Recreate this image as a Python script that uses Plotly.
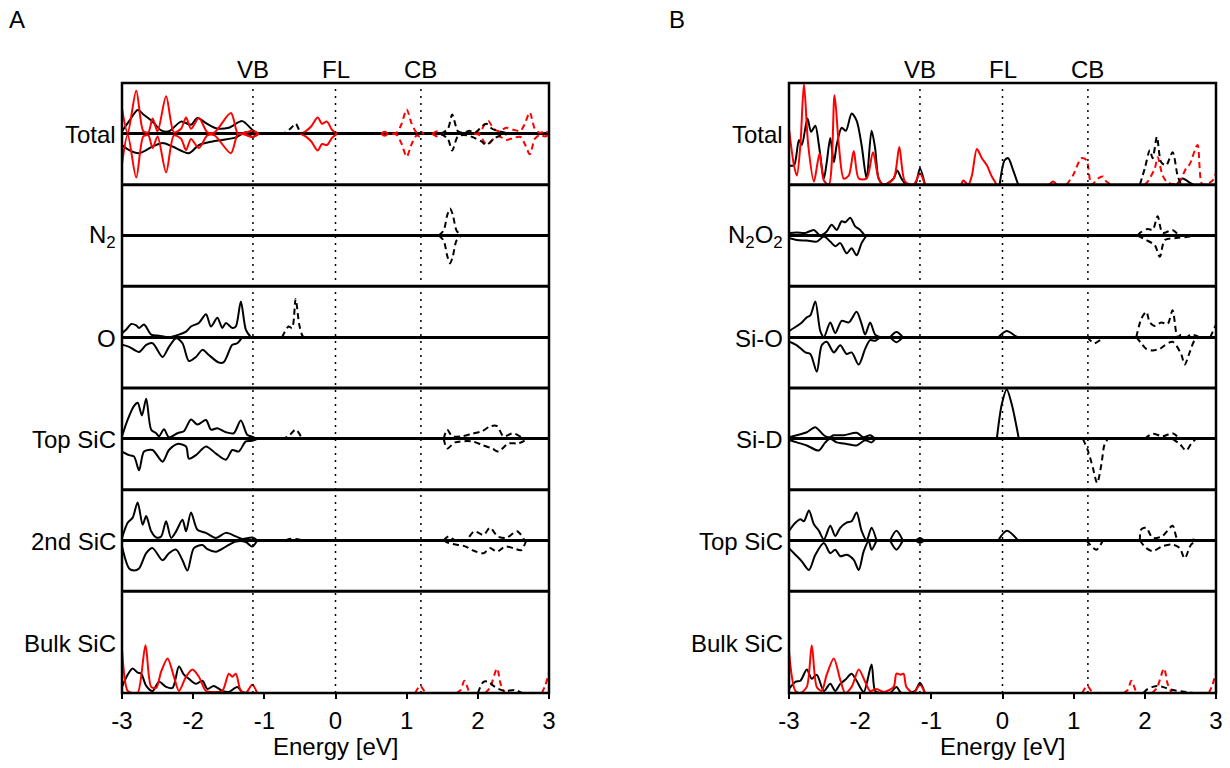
import plotly.graph_objects as go

# ---------------- reference energies ----------------
VB, FL, CB = -1.16, 0.0, 1.2
ticks = [-3, -2, -1, 0, 1, 2, 3]
tick_text = ["-3", "-2", "-1", "0", "1", "2", "3"]
labels_A = ["Total", "N<sub>2</sub>", "O", "Top SiC", "2nd SiC", "Bulk SiC"]
labels_B = ["Total", "N<sub>2</sub>O<sub>2</sub>", "Si-O", "Si-D", "Top SiC", "Bulk SiC"]
N = None

# ---------------- Panel A : Total ----------------
a_tot_blk_up_x = [-3.0, -2.90, -2.78, -2.69, -2.57, -2.45, -2.34, -2.17, -2.03, -1.94, -1.82, -1.68, -1.50, -1.31, -1.17, -1.08]
a_tot_blk_up_y = [0.05, 0.25, 0.47, 0.37, 0.24, 0.07, 0.05, 0.24, 0.18, 0.31, 0.21, 0.11, 0.12, 0.25, 0.08, 0.0]
a_tot_blk_dn_x = [-3.0, -2.90, -2.76, -2.57, -2.43, -2.29, -2.06, -1.92, -1.73, -1.59, -1.40, -1.26, -1.17, -1.08]
a_tot_blk_dn_y = [-0.22, -0.32, -0.38, -0.25, -0.18, -0.25, -0.38, -0.22, -0.15, -0.12, -0.07, 0.03, -0.06, 0.0]
a_tot_red_up_x = [-3.0, -2.92, -2.80, -2.70, -2.63, -2.57, -2.50, -2.38, -2.27, -2.17, -2.10, -2.03, -1.92, -1.80, -1.70, -1.47, -1.37, -1.27, -1.17, -1.08,
                  N, -0.49, -0.42, -0.34, -0.25, -0.19, -0.12, -0.05, 0.02, N, 0.64, 0.69, 0.74]
a_tot_red_up_y = [0.50, 0.02, 0.85, 0.05, 0.03, 0.30, 0.05, 0.74, 0.03, 0.10, 0.32, 0.10, 0.31, 0.03, 0.03, 0.41, 0.0, 0.02, 0.06, 0.0,
                  N, 0.0, 0.05, 0.15, 0.32, 0.20, 0.24, 0.08, 0.0, N, 0.0, 0.04, 0.0]
a_tot_red_dn_x = [-3.0, -2.92, -2.80, -2.70, -2.63, -2.57, -2.50, -2.38, -2.27, -2.17, -2.10, -2.03, -1.92, -1.80, -1.70, -1.47, -1.37, -1.27, -1.17, -1.08,
                  N, -0.49, -0.42, -0.34, -0.25, -0.19, -0.12, -0.05, 0.02, N, 0.64, 0.69, 0.74]
a_tot_red_dn_y = [-0.60, -0.02, -0.86, -0.05, -0.03, -0.28, -0.05, -0.76, -0.03, -0.10, -0.32, -0.10, -0.28, -0.03, -0.03, -0.38, 0.0, -0.02, -0.06, 0.0,
                  N, 0.0, -0.05, -0.15, -0.33, -0.20, -0.22, -0.08, 0.0, N, 0.0, -0.04, 0.0]
a_tot_redd_up_x = [0.80, 0.86, 0.93, 1.00, 1.07, 1.14, 1.18, 1.24, N, 1.36, 1.43, 1.52, N, 1.95, 2.03, 2.10, 2.15, 2.22, 2.30, 2.40, 2.50, 2.60, 2.66, 2.73, 2.80, 2.87, 2.94, 3.0]
a_tot_redd_up_y = [0.0, 0.02, 0.20, 0.48, 0.20, 0.03, 0.05, 0.0, N, 0.0, 0.05, 0.0, N, 0.0, 0.03, 0.20, 0.25, 0.10, 0.05, 0.12, 0.08, 0.06, 0.20, 0.42, 0.10, 0.02, 0.05, 0.02]
a_tot_redd_dn_x = [0.80, 0.86, 0.93, 1.00, 1.07, 1.14, 1.18, 1.24, N, 1.36, 1.43, 1.52, N, 1.95, 2.03, 2.10, 2.15, 2.22, 2.30, 2.40, 2.50, 2.60, 2.66, 2.73, 2.80, 2.87, 2.94, 3.0]
a_tot_redd_dn_y = [0.0, -0.02, -0.20, -0.45, -0.20, -0.03, -0.05, 0.0, N, 0.0, -0.05, 0.0, N, 0.0, -0.03, -0.18, -0.20, -0.10, -0.05, -0.12, -0.08, -0.06, -0.20, -0.40, -0.10, -0.02, -0.05, -0.02]
a_tot_blkd_up_x = [-0.78, -0.70, -0.62, -0.56, -0.49, -0.40, N, 1.48, 1.58, 1.64, 1.72, 1.80, 1.88, 1.96, 2.06, 2.12, 2.20, 2.30, 2.40, 2.50]
a_tot_blkd_up_y = [0.0, 0.03, 0.12, 0.20, 0.03, 0.0, N, 0.0, 0.10, 0.38, 0.05, 0.02, 0.06, 0.02, 0.15, 0.20, 0.10, 0.05, 0.02, 0.0]
a_tot_blkd_dn_x = [1.48, 1.58, 1.64, 1.72, 1.85, 2.05, 2.12, 2.22, 2.32, 2.45]
a_tot_blkd_dn_y = [0.0, -0.10, -0.33, -0.05, -0.03, -0.15, -0.22, -0.10, -0.03, 0.0]

# ---------------- Panel A : N2 ----------------
a_n2_blkd_up_x = [-3.0, 1.45, N, 1.45, 1.52, 1.57, 1.61, 1.65, 1.70, 1.77, N, 1.77, 3.0]
a_n2_blkd_up_y = [0.0, 0.0, N, 0.0, 0.10, 0.40, 0.53, 0.40, 0.10, 0.0, N, 0.0, 0.0]
a_n2_blkd_dn_x = [1.45, 1.52, 1.57, 1.61, 1.65, 1.70, 1.77]
a_n2_blkd_dn_y = [0.0, -0.10, -0.40, -0.55, -0.40, -0.10, 0.0]

# ---------------- Panel A : O ----------------
a_o_blk_up_x = [-3.0, -2.94, -2.87, -2.80, -2.76, -2.69, -2.59, -2.48, -2.34, -2.20, -2.10, -2.03, -1.92, -1.82, -1.75, -1.66, -1.59, -1.54, -1.45, -1.40, -1.33, -1.26, -1.19]
a_o_blk_up_y = [0.08, 0.15, 0.26, 0.23, 0.18, 0.25, 0.05, 0.03, 0.0, 0.05, 0.11, 0.21, 0.28, 0.45, 0.21, 0.38, 0.18, 0.28, 0.18, 0.21, 0.70, 0.15, 0.0]
a_o_blk_dn_x = [-3.0, -2.90, -2.76, -2.66, -2.57, -2.43, -2.34, -2.24, -2.15, -2.06, -1.96, -1.87, -1.78, -1.64, -1.57, -1.45, -1.38, -1.31]
a_o_blk_dn_y = [-0.15, -0.19, -0.29, -0.15, -0.12, -0.39, -0.19, -0.02, -0.12, -0.47, -0.39, -0.25, -0.35, -0.50, -0.49, -0.15, -0.12, 0.0]
a_o_blkd_up_x = [-0.75, -0.66, -0.61, -0.56, -0.51, -0.46, -0.41]
a_o_blkd_up_y = [0.0, 0.21, 0.18, 0.75, 0.25, 0.02, 0.0]

# ---------------- Panel A : Top SiC ----------------
a_top_blk_up_x = [-3.0, -2.92, -2.83, -2.78, -2.72, -2.66, -2.59, -2.52, -2.48, -2.41, -2.34, -2.22, -2.13, -2.03, -1.94, -1.82, -1.75, -1.66, -1.54, -1.43, -1.33, -1.24, -1.17, -1.10]
a_top_blk_up_y = [0.05, 0.38, 0.65, 0.71, 0.46, 0.79, 0.18, 0.11, 0.05, 0.19, 0.03, 0.11, 0.15, 0.38, 0.28, 0.37, 0.18, 0.21, 0.13, 0.11, 0.36, 0.08, 0.04, 0.0]
a_top_blk_dn_x = [-3.0, -2.90, -2.83, -2.76, -2.69, -2.57, -2.43, -2.34, -2.22, -2.10, -2.06, -1.96, -1.82, -1.68, -1.54, -1.45, -1.36, -1.26, -1.17, -1.10]
a_top_blk_dn_y = [-0.25, -0.32, -0.35, -0.62, -0.25, -0.22, -0.45, -0.22, -0.10, -0.15, -0.39, -0.32, -0.15, -0.29, -0.41, -0.22, -0.25, -0.05, -0.04, 0.0]
a_top_blkd_up_x = [-0.76, -0.66, -0.56, -0.47, N, 1.52, 1.57, 1.64, 1.78, 1.92, 2.06, 2.18, 2.27, 2.36, 2.50, 2.63, 2.70]
a_top_blkd_up_y = [0.0, 0.05, 0.18, 0.0, N, 0.0, 0.18, 0.05, 0.05, 0.10, 0.15, 0.25, 0.25, 0.05, 0.11, 0.02, 0.0]
a_top_blkd_dn_x = [1.52, 1.57, 1.68, 1.92, 2.06, 2.20, 2.29, 2.43, 2.57, 2.70]
a_top_blkd_dn_y = [0.0, -0.19, -0.07, -0.05, -0.12, -0.19, -0.25, -0.09, -0.09, 0.0]

# ---------------- Panel A : 2nd SiC ----------------
a_2nd_blk_up_x = [-3.0, -2.92, -2.85, -2.78, -2.71, -2.66, -2.59, -2.52, -2.45, -2.38, -2.31, -2.24, -2.15, -2.10, -2.03, -1.94, -1.82, -1.68, -1.54, -1.40, -1.31, -1.17, -1.10]
a_2nd_blk_up_y = [0.05, 0.35, 0.45, 0.75, 0.31, 0.48, 0.18, 0.06, 0.08, 0.38, 0.05, 0.18, 0.41, 0.18, 0.55, 0.21, 0.15, 0.05, 0.15, 0.08, 0.03, 0.06, 0.0]
a_2nd_blk_dn_x = [-3.0, -2.90, -2.83, -2.76, -2.66, -2.57, -2.43, -2.34, -2.24, -2.15, -2.08, -1.99, -1.87, -1.80, -1.68, -1.54, -1.40, -1.26, -1.17, -1.10]
a_2nd_blk_dn_y = [-0.12, -0.55, -0.59, -0.55, -0.25, -0.15, -0.39, -0.25, -0.18, -0.39, -0.59, -0.15, -0.09, -0.17, -0.22, -0.12, -0.02, -0.03, -0.12, 0.0]
a_2nd_blkd_up_x = [-0.70, -0.65, -0.56, -0.45, N, 1.52, 1.59, 1.68, 1.83, 1.95, 2.08, 2.17, 2.28, 2.40, 2.55, 2.66]
a_2nd_blkd_up_y = [0.0, 0.03, 0.03, 0.0, N, 0.0, 0.08, 0.0, 0.0, 0.18, 0.11, 0.25, 0.08, 0.05, 0.18, 0.0]
a_2nd_blkd_dn_x = [1.52, 1.59, 1.83, 1.92, 2.08, 2.17, 2.27, 2.38, 2.50, 2.61, 2.68]
a_2nd_blkd_dn_y = [0.0, -0.05, -0.12, -0.19, -0.25, -0.15, -0.22, -0.12, -0.15, -0.19, 0.0]

# ---------------- Panel A : Bulk SiC ----------------
a_blk_red_x = [-3.0, -2.92, -2.85, -2.78, -2.67, -2.59, -2.52, -2.45, -2.36, -2.27, -2.20, -2.10, -2.01, -1.92, -1.82, -1.73, -1.59, -1.50, -1.45, -1.40, -1.33, -1.26, -1.17, -1.10]
a_blk_red_y = [0.43, 0.02, 0.0, 0.0, 0.47, 0.06, 0.05, 0.21, 0.34, 0.16, 0.02, 0.16, 0.23, 0.16, 0.02, 0.01, 0.02, 0.19, 0.16, 0.19, 0.02, 0.0, 0.08, 0.0]
a_blk_blk_x = [-3.0, -2.92, -2.85, -2.78, -2.73, -2.66, -2.57, -2.48, -2.38, -2.29, -2.20, -2.13, -2.06, -1.96, -1.87, -1.80, -1.71, -1.59, -1.50, -1.38, -1.31, -1.17]
a_blk_blk_y = [0.06, 0.18, 0.24, 0.20, 0.19, 0.07, 0.02, 0.11, 0.06, 0.05, 0.26, 0.18, 0.14, 0.09, 0.12, 0.04, 0.07, 0.02, 0.01, 0.06, 0.01, 0.0]
a_blk_redd_x = [1.12, 1.19, 1.26, N, 1.70, 1.76, 1.81, 1.88, N, 2.10, 2.17, 2.27, 2.32, 2.38, N, 2.90, 2.95, 3.0]
a_blk_redd_y = [0.0, 0.07, 0.0, N, 0.0, 0.03, 0.12, 0.0, N, 0.0, 0.05, 0.24, 0.09, 0.0, N, 0.0, 0.08, 0.20]
a_blk_blkd_x = [2.00, 2.08, 2.15, 2.22, 2.29, 2.38, 2.52, 2.62]
a_blk_blkd_y = [0.0, 0.11, 0.11, 0.07, 0.04, 0.02, 0.03, 0.0]

# ---------------- Panel B : Total ----------------
b_tot_red_x = [-3.0, -2.93, -2.89, -2.84, -2.79, -2.73, -2.65, -2.57, -2.51, -2.44, -2.36, -2.30, -2.23, -2.16, -2.09, -2.02, -1.91, -1.82, -1.74, -1.67, -1.53, -1.45, -1.37, -1.25, -1.16, -1.09,
               N, -0.58, -0.55, -0.48, -0.43, -0.36, -0.29, -0.22, -0.15, -0.08, N, 0.66, 0.71, 0.76]
b_tot_red_y = [0.55, 0.19, 0.09, 0.39, 0.99, 0.39, 0.03, 0.31, 0.04, 0.0, 0.88, 0.39, 0.06, 0.09, 0.33, 0.06, 0.06, 0.32, 0.06, 0.0, 0.06, 0.37, 0.03, 0.0, 0.11, 0.0,
               N, 0.0, 0.04, 0.0, 0.09, 0.35, 0.26, 0.19, 0.08, 0.0, N, 0.0, 0.03, 0.0]
b_tot_redd_x = [0.90, 0.99, 1.11, 1.18, 1.25, 1.34, 1.41, 1.46, 1.53, N, 2.00, 2.04, 2.14, 2.18, 2.25, 2.32, 2.46, 2.58, 2.63, 2.74, 2.81, 2.95, 3.0]
b_tot_redd_y = [0.0, 0.09, 0.26, 0.24, 0.0, 0.06, 0.08, 0.03, 0.0, N, 0.0, 0.03, 0.16, 0.27, 0.09, 0.02, 0.01, 0.16, 0.20, 0.39, 0.0, 0.04, 0.12]
b_tot_blk_x = [-3.0, -2.93, -2.86, -2.82, -2.74, -2.69, -2.63, -2.58, -2.51, -2.47, -2.42, -2.37, -2.33, -2.26, -2.20, -2.12, -2.05, -1.98, -1.91, -1.84, -1.79, -1.74, -1.67, -1.53, -1.48, -1.42, -1.35, -1.23, -1.16, -1.09,
               N, -0.04, 0.03, 0.08, 0.15, 0.22, N, 2.45, 2.53, 2.63, 2.68]
b_tot_blk_y = [0.19, 0.19, 0.44, 0.39, 0.65, 0.52, 0.58, 0.39, 0.06, 0.22, 0.46, 0.22, 0.39, 0.56, 0.53, 0.70, 0.63, 0.39, 0.06, 0.53, 0.36, 0.06, 0.0, 0.06, 0.14, 0.06, 0.0, 0.0, 0.16, 0.0,
               N, 0.0, 0.24, 0.26, 0.14, 0.0, N, 0.0, 0.06, 0.02, 0.0]
b_tot_blkd_x = [1.93, 2.00, 2.07, 2.11, 2.17, 2.23, 2.30, 2.39, 2.46, 2.51]
b_tot_blkd_y = [0.0, 0.16, 0.34, 0.26, 0.47, 0.22, 0.19, 0.32, 0.09, 0.0]

# ---------------- Panel B : N2O2 ----------------
b_n2o2_blk_up_x = [-3.0, -2.89, -2.77, -2.65, -2.56, -2.47, -2.40, -2.33, -2.26, -2.21, -2.14, -2.07, -2.00, -1.93, -1.84]
b_n2o2_blk_up_y = [0.05, 0.06, 0.05, 0.11, 0.0, 0.08, 0.21, 0.11, 0.28, 0.26, 0.35, 0.18, 0.11, 0.0, 0.0]
b_n2o2_blk_dn_x = [-3.0, -2.89, -2.75, -2.61, -2.51, -2.42, -2.35, -2.28, -2.19, -2.12, -2.05, -1.98, -1.91]
b_n2o2_blk_dn_y = [-0.05, -0.09, -0.10, -0.12, -0.02, -0.12, -0.21, -0.15, -0.35, -0.25, -0.39, -0.15, 0.0]
b_n2o2_blkd_up_x = [1.90, 1.93, 2.04, 2.11, 2.18, 2.25, 2.39, 2.49, 2.63, 2.72]
b_n2o2_blkd_up_y = [0.0, 0.05, 0.13, 0.11, 0.38, 0.05, 0.11, 0.0, 0.01, 0.0]
b_n2o2_blkd_dn_x = [1.90, 2.02, 2.14, 2.21, 2.28, 2.44, 2.58, 2.72]
b_n2o2_blkd_dn_y = [0.0, -0.09, -0.19, -0.42, -0.09, -0.05, -0.03, 0.0]

# ---------------- Panel B : Si-O ----------------
b_sio_blk_up_x = [-3.0, -2.91, -2.82, -2.75, -2.70, -2.63, -2.56, -2.51, -2.42, -2.35, -2.26, -2.16, -2.05, -1.98, -1.93, -1.86, -1.79, -1.72,
                  N, -1.58, -1.49, -1.40, N, -0.06, 0.06, 0.20, 0.25]
b_sio_blk_up_y = [0.12, 0.20, 0.29, 0.39, 0.43, 0.70, 0.12, 0.0, 0.29, 0.08, 0.32, 0.29, 0.50, 0.26, 0.05, 0.29, 0.05, 0.0,
                  N, 0.0, 0.10, 0.0, N, 0.0, 0.12, 0.01, 0.0]
b_sio_blk_dn_x = [-3.0, -2.89, -2.77, -2.70, -2.61, -2.54, -2.47, -2.37, -2.28, -2.19, -2.12, -2.02, -1.93, -1.86, -1.79, -1.72,
                  N, -1.58, -1.49, -1.40]
b_sio_blk_dn_y = [-0.09, -0.16, -0.30, -0.33, -0.68, -0.16, -0.09, -0.30, -0.16, -0.33, -0.30, -0.54, -0.23, -0.06, -0.07, 0.0,
                  N, 0.0, -0.10, 0.0]
b_sio_blkd_up_x = [1.88, 1.95, 2.02, 2.07, 2.14, 2.23, 2.32, 2.39, 2.46, 2.51, 2.58, 2.65, 2.77, N, 2.92, 3.0]
b_sio_blkd_up_y = [0.0, 0.36, 0.50, 0.29, 0.22, 0.29, 0.26, 0.53, 0.0, 0.05, 0.0, 0.05, 0.0, N, 0.0, 0.25]
b_sio_blkd_dn_x = [1.19, 1.29, 1.38, 1.46, N, 1.88, 1.95, 2.02, 2.11, 2.21, 2.28, 2.39, 2.51, 2.56, 2.63, 2.70, 2.77]
b_sio_blkd_dn_y = [0.0, -0.12, -0.05, 0.0, N, 0.0, -0.12, -0.23, -0.26, -0.23, -0.16, -0.09, -0.33, -0.54, -0.30, -0.06, 0.0]

# ---------------- Panel B : Si-D ----------------
b_sid_blk_up_x = [-3.0, -2.89, -2.75, -2.63, -2.51, -2.44, -2.37, -2.23, -2.05, -1.95, -1.86, -1.79, N, -0.08, -0.01, 0.06, 0.13, 0.17, 0.23]
b_sid_blk_up_y = [0.03, 0.07, 0.13, 0.23, 0.07, 0.03, 0.07, 0.07, 0.12, 0.03, 0.07, 0.0, N, 0.0, 0.68, 0.97, 0.68, 0.43, 0.0]
b_sid_blk_dn_x = [-3.0, -2.89, -2.75, -2.58, -2.49, -2.42, -2.33, -2.19, -2.05, -1.93, -1.84, -1.79]
b_sid_blk_dn_y = [-0.02, -0.07, -0.13, -0.23, -0.07, 0.0, -0.07, -0.10, -0.13, -0.03, -0.07, 0.0]
b_sid_blkd_up_x = [2.00, 2.11, 2.25, 2.39, 2.49]
b_sid_blkd_up_y = [0.0, 0.10, 0.05, 0.11, 0.0]
b_sid_blkd_dn_x = [1.13, 1.20, 1.27, 1.33, 1.39, 1.43, 1.48, N, 2.39, 2.49, 2.58, 2.65, 2.72]
b_sid_blkd_dn_y = [0.0, -0.23, -0.57, -0.87, -0.50, -0.13, 0.0, N, 0.0, -0.10, -0.23, -0.10, 0.0]

# ---------------- Panel B : Top SiC ----------------
b_top_blk_up_x = [-3.0, -2.91, -2.84, -2.79, -2.72, -2.65, -2.58, -2.51, -2.42, -2.35, -2.28, -2.19, -2.12, -2.05, -1.98, -1.91, -1.84, -1.77,
                  N, -1.58, -1.49, -1.40, N, -1.22, -1.16, -1.10, N, -0.06, 0.06, 0.22]
b_top_blk_up_y = [0.19, 0.35, 0.42, 0.38, 0.59, 0.32, 0.19, 0.02, 0.29, 0.09, 0.25, 0.35, 0.38, 0.55, 0.19, 0.0, 0.25, 0.0,
                  N, 0.0, 0.19, 0.0, N, 0.0, 0.05, 0.0, N, 0.0, 0.19, 0.0]
b_top_blk_dn_x = [-3.0, -2.91, -2.82, -2.72, -2.63, -2.51, -2.42, -2.35, -2.28, -2.19, -2.09, -2.02, -1.95, -1.88, -1.84, -1.77,
                  N, -1.58, -1.49, -1.40, N, -1.22, -1.16, -1.10]
b_top_blk_dn_y = [-0.15, -0.28, -0.41, -0.58, -0.28, -0.05, -0.25, -0.18, -0.31, -0.28, -0.38, -0.58, -0.21, -0.01, -0.18, 0.0,
                  N, 0.0, -0.18, 0.0, N, 0.0, -0.05, 0.0]
b_top_blkd_up_x = [1.93, 1.95, 2.02, 2.11, 2.25, 2.39, 2.46, 2.58, 2.70]
b_top_blkd_up_y = [0.0, 0.22, 0.25, 0.05, 0.09, 0.29, 0.02, 0.0, 0.02]
b_top_blkd_dn_x = [1.18, 1.32, 1.41, N, 1.93, 2.02, 2.11, 2.25, 2.39, 2.49, 2.56, 2.65, 2.74]
b_top_blkd_dn_y = [0.0, -0.18, 0.0, N, 0.0, -0.15, -0.21, -0.11, -0.08, -0.15, -0.35, -0.08, 0.0]

# ---------------- Panel B : Bulk SiC ----------------
b_blk_red_x = [-3.0, -2.91, -2.84, -2.75, -2.68, -2.61, -2.54, -2.47, -2.37, -2.28, -2.21, -2.12, -2.02, -1.93, -1.86, -1.77, -1.67, -1.53, -1.49, -1.43, -1.39, -1.35, -1.25, -1.16, -1.09]
b_blk_red_y = [0.41, 0.02, 0.0, 0.06, 0.47, 0.06, 0.02, 0.18, 0.34, 0.13, 0.0, 0.06, 0.23, 0.11, 0.02, 0.04, 0.01, 0.06, 0.19, 0.18, 0.19, 0.06, 0.0, 0.08, 0.0]
b_blk_blk_x = [-3.0, -2.91, -2.84, -2.75, -2.68, -2.61, -2.51, -2.42, -2.35, -2.28, -2.21, -2.12, -2.05, -1.95, -1.84, -1.79, -1.72, -1.58, -1.49, -1.42, -1.23, -1.16, -1.09]
b_blk_blk_y = [0.04, 0.11, 0.12, 0.23, 0.14, 0.18, 0.02, 0.09, 0.02, 0.09, 0.13, 0.19, 0.12, 0.01, 0.28, 0.02, 0.0, 0.0, 0.06, 0.0, 0.02, 0.10, 0.0]
b_blk_redd_x = [1.12, 1.19, 1.26, N, 1.70, 1.76, 1.81, 1.88, N, 2.10, 2.17, 2.27, 2.32, 2.38, N, 2.90, 2.95, 3.0]
b_blk_redd_y = [0.0, 0.07, 0.0, N, 0.0, 0.03, 0.12, 0.0, N, 0.0, 0.05, 0.24, 0.09, 0.0, N, 0.0, 0.08, 0.20]
b_blk_blkd_x = [1.98, 2.04, 2.11, 2.18, 2.25, 2.39, 2.58, 2.68]
b_blk_blkd_y = [0.0, 0.04, 0.06, 0.07, 0.06, 0.03, 0.01, 0.0]

BLACK, RED = "#000000", "#ff0000"
DASH = "6px,4px"

# (axis index, x, y, colour, dash)
curves = [
    (1, a_tot_blk_up_x, a_tot_blk_up_y, BLACK, "solid"), (1, a_tot_blk_dn_x, a_tot_blk_dn_y, BLACK, "solid"),
    (1, a_tot_red_up_x, a_tot_red_up_y, RED, "solid"), (1, a_tot_red_dn_x, a_tot_red_dn_y, RED, "solid"),
    (1, a_tot_redd_up_x, a_tot_redd_up_y, RED, DASH), (1, a_tot_redd_dn_x, a_tot_redd_dn_y, RED, DASH),
    (1, a_tot_blkd_up_x, a_tot_blkd_up_y, BLACK, DASH), (1, a_tot_blkd_dn_x, a_tot_blkd_dn_y, BLACK, DASH),
    (2, a_n2_blkd_up_x, a_n2_blkd_up_y, BLACK, DASH), (2, a_n2_blkd_dn_x, a_n2_blkd_dn_y, BLACK, DASH),
    (3, a_o_blk_up_x, a_o_blk_up_y, BLACK, "solid"), (3, a_o_blk_dn_x, a_o_blk_dn_y, BLACK, "solid"),
    (3, a_o_blkd_up_x, a_o_blkd_up_y, BLACK, DASH),
    (4, a_top_blk_up_x, a_top_blk_up_y, BLACK, "solid"), (4, a_top_blk_dn_x, a_top_blk_dn_y, BLACK, "solid"),
    (4, a_top_blkd_up_x, a_top_blkd_up_y, BLACK, DASH), (4, a_top_blkd_dn_x, a_top_blkd_dn_y, BLACK, DASH),
    (5, a_2nd_blk_up_x, a_2nd_blk_up_y, BLACK, "solid"), (5, a_2nd_blk_dn_x, a_2nd_blk_dn_y, BLACK, "solid"),
    (5, a_2nd_blkd_up_x, a_2nd_blkd_up_y, BLACK, DASH), (5, a_2nd_blkd_dn_x, a_2nd_blkd_dn_y, BLACK, DASH),
    (6, a_blk_blk_x, a_blk_blk_y, BLACK, "solid"), (6, a_blk_red_x, a_blk_red_y, RED, "solid"),
    (6, a_blk_redd_x, a_blk_redd_y, RED, DASH), (6, a_blk_blkd_x, a_blk_blkd_y, BLACK, DASH),
    (7, b_tot_blk_x, b_tot_blk_y, BLACK, "solid"), (7, b_tot_red_x, b_tot_red_y, RED, "solid"),
    (7, b_tot_redd_x, b_tot_redd_y, RED, DASH), (7, b_tot_blkd_x, b_tot_blkd_y, BLACK, DASH),
    (8, b_n2o2_blk_up_x, b_n2o2_blk_up_y, BLACK, "solid"), (8, b_n2o2_blk_dn_x, b_n2o2_blk_dn_y, BLACK, "solid"),
    (8, b_n2o2_blkd_up_x, b_n2o2_blkd_up_y, BLACK, DASH), (8, b_n2o2_blkd_dn_x, b_n2o2_blkd_dn_y, BLACK, DASH),
    (9, b_sio_blk_up_x, b_sio_blk_up_y, BLACK, "solid"), (9, b_sio_blk_dn_x, b_sio_blk_dn_y, BLACK, "solid"),
    (9, b_sio_blkd_up_x, b_sio_blkd_up_y, BLACK, DASH), (9, b_sio_blkd_dn_x, b_sio_blkd_dn_y, BLACK, DASH),
    (10, b_sid_blk_up_x, b_sid_blk_up_y, BLACK, "solid"), (10, b_sid_blk_dn_x, b_sid_blk_dn_y, BLACK, "solid"),
    (10, b_sid_blkd_up_x, b_sid_blkd_up_y, BLACK, DASH), (10, b_sid_blkd_dn_x, b_sid_blkd_dn_y, BLACK, DASH),
    (11, b_top_blk_up_x, b_top_blk_up_y, BLACK, "solid"), (11, b_top_blk_dn_x, b_top_blk_dn_y, BLACK, "solid"),
    (11, b_top_blkd_up_x, b_top_blkd_up_y, BLACK, DASH), (11, b_top_blkd_dn_x, b_top_blkd_dn_y, BLACK, DASH),
    (12, b_blk_blk_x, b_blk_blk_y, BLACK, "solid"), (12, b_blk_red_x, b_blk_red_y, RED, "solid"),
    (12, b_blk_redd_x, b_blk_redd_y, RED, DASH), (12, b_blk_blkd_x, b_blk_blkd_y, BLACK, DASH),
]
# subplots drawn with a positive-only y range (no spin mirroring)
one_sided = {6, 7, 12}

W, H = 1230, 768
FONT = "Liberation Sans, Arial, Helvetica, sans-serif"
FS = 24
top_px, bot_px = 83, 693
row_h = (bot_px - top_px) / 6
x_dom = {0: [122 / W, 549 / W], 1: [789 / W, 1216 / W]}

fig = go.Figure()
for idx, xs, ys, col, dash in curves:
    ax = "" if idx == 1 else str(idx)
    fig.add_trace(go.Scatter(x=xs, y=ys, mode="lines", xaxis="x" + ax, yaxis="y" + ax,
                             line=dict(color=col, width=2, dash=dash, shape="spline", smoothing=0.8),
                             connectgaps=False, hoverinfo="skip", showlegend=False))

layout = {}
for p in range(2):
    for r in range(6):
        idx = p * 6 + r + 1
        ax = "" if idx == 1 else str(idx)
        t = top_px + r * row_h
        b = t + row_h
        bottom = (r == 5)
        layout["xaxis" + ax] = dict(
            domain=x_dom[p], range=[-3, 3], anchor="y" + ax, showline=False, showgrid=False, zeroline=False,
            tickvals=ticks if bottom else [], ticktext=tick_text if bottom else [],
            ticks="outside" if bottom else "", ticklen=5, tickwidth=1.5, tickcolor="black",
            showticklabels=bottom, tickfont=dict(size=FS, color="black", family=FONT),
            ticklabelstandoff=1, automargin=False, fixedrange=True)
        rng = [0, 1.0] if idx in one_sided else [-1, 1]
        layout["yaxis" + ax] = dict(
            domain=[1 - b / H, 1 - t / H], range=rng, anchor="x" + ax, showline=False,
            showgrid=False, showticklabels=False, ticks="", automargin=False,
            zeroline=idx not in one_sided, zerolinecolor="black", zerolinewidth=2.5, fixedrange=True)

annotations = []
shapes = []
for p in range(2):
    labs = labels_A if p == 0 else labels_B
    xlab = (118 if p == 0 else 785) / W
    for r, lab in enumerate(labs):
        t = top_px + r * row_h
        annotations.append(dict(text=lab, xref="paper", yref="paper", x=xlab,
                                y=1 - (t + row_h / 2 + 1) / H, xanchor="right", yanchor="middle",
                                showarrow=False, font=dict(size=FS, color="black", family=FONT)))
    top_ax = "x" if p == 0 else "x7"
    bot_ax = "x6" if p == 0 else "x12"
    for name, xv in (("VB", VB), ("FL", FL), ("CB", CB)):
        annotations.append(dict(text=name, xref=top_ax, yref="paper", x=xv, y=1 - 69 / H,
                                xanchor="center", yanchor="middle", showarrow=False,
                                font=dict(size=FS, color="black", family=FONT)))
        shapes.append(dict(type="line", xref=bot_ax, yref="paper", x0=xv, x1=xv,
                           y0=1 - bot_px / H, y1=1 - top_px / H, layer="above",
                           line=dict(color="black", width=1.5, dash="2px,5px")))
    # panel frame and row separators
    shapes.append(dict(type="rect", xref="paper", yref="paper", x0=x_dom[p][0], x1=x_dom[p][1],
                       y0=1 - bot_px / H, y1=1 - top_px / H, layer="above",
                       line=dict(color="black", width=2.5)))
    for r in range(1, 6):
        yy = 1 - (top_px + r * row_h) / H
        shapes.append(dict(type="line", xref="paper", yref="paper", x0=x_dom[p][0], x1=x_dom[p][1],
                           y0=yy, y1=yy, layer="above", line=dict(color="black", width=3)))
    cx = (x_dom[p][0] + x_dom[p][1]) / 2
    annotations.append(dict(text="Energy [eV]", xref="paper", yref="paper", x=cx, y=1 - 746 / H,
                            xanchor="center", yanchor="middle", showarrow=False,
                            font=dict(size=FS, color="black", family=FONT)))
annotations.append(dict(text="A", xref="paper", yref="paper", x=17 / W, y=1 - 20 / H, xanchor="center",
                        yanchor="middle", showarrow=False, font=dict(size=FS, color="black", family=FONT)))
annotations.append(dict(text="B", xref="paper", yref="paper", x=677 / W, y=1 - 20 / H, xanchor="center",
                        yanchor="middle", showarrow=False, font=dict(size=FS, color="black", family=FONT)))

fig.update_layout(**layout)
fig.update_layout(width=W, height=H, margin=dict(l=0, r=0, t=0, b=0, pad=0),
                  paper_bgcolor="white", plot_bgcolor="white", showlegend=False,
                  annotations=annotations, shapes=shapes, font=dict(family=FONT, color="black"))
fig.write_html("out.html", config={"displayModeBar": False},
               post_script="document.body.style.margin='0';document.body.style.overflow='hidden';")
